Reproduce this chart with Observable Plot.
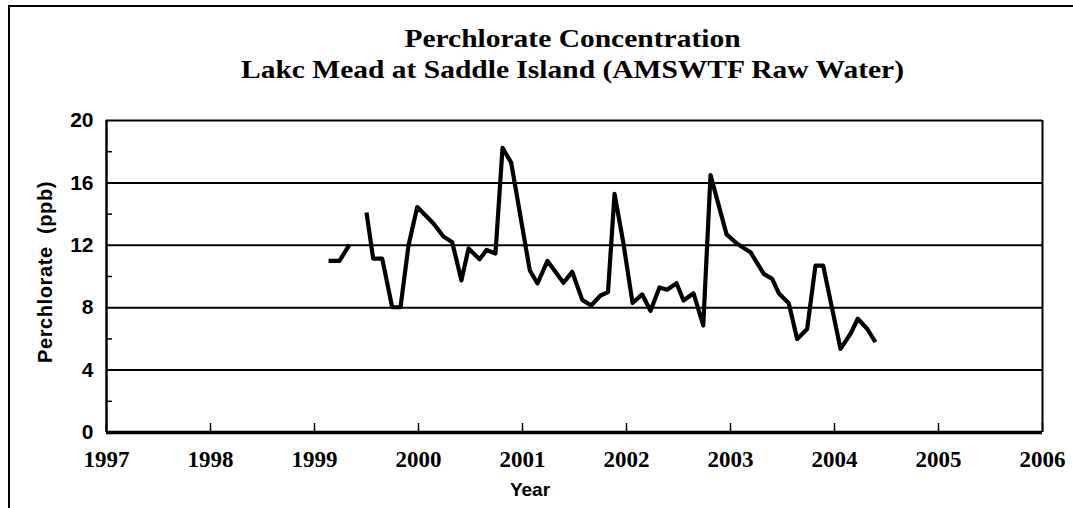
<!DOCTYPE html>
<html><head><meta charset="utf-8">
<script src="https://cdn.jsdelivr.net/npm/d3@7"></script>
<script src="https://cdn.jsdelivr.net/npm/@observablehq/plot@0.6"></script>
<style>
html,body{margin:0;padding:0;background:#fff}
body{width:1073px;height:508px;overflow:hidden;position:relative;font-family:"Liberation Sans",Arial,sans-serif}
#frame{position:absolute;left:8px;top:5px;width:1080px;height:520px;border-left:2px solid #000;border-top:2px solid #000;box-sizing:border-box}
#title{position:absolute;left:100px;top:0;width:945px;height:100px;text-align:center;font-family:"Liberation Serif","Times New Roman",serif;font-weight:bold;font-size:25px;line-height:30px;color:#000}
#title div{position:absolute;left:0;right:0;transform:scaleX(1.18)}
#title .l1{top:24px}
#title .l2{top:55px}
#chart{position:absolute;left:0;top:100px}
#ylab{position:absolute;left:45px;top:272px;transform:translate(-50%,-50%) rotate(-90deg);font-weight:bold;font-size:20px;letter-spacing:0.6px;white-space:nowrap}
#xlab{position:absolute;left:530px;top:490px;transform:translate(-50%,-50%);font-weight:bold;font-size:19px}
</style></head>
<body>
<div id="frame"></div>
<div id="title"><div class="l1">Perchlorate Concentration</div><div class="l2">Lakc Mead at Saddle Island (AMSWTF Raw Water)</div></div>
<div id="chart"></div>
<div id="ylab">Perchlorate&nbsp;&nbsp;(ppb)</div>
<div id="xlab">Year</div>
<script>
// Tick labels
const yearTicks = [1997, 1998, 1999, 2000, 2001, 2002, 2003, 2004, 2005, 2006];
const yTicks = [0, 4, 8, 12, 16, 20];
const yMinorTicks = [2, 6, 10, 14, 18];
const gridValues = [4, 8, 12, 16];

// Series 1 (early 1999 samples)
const seg1Years = [1999.135, 1999.24, 1999.337];
const seg1Values = [11.0, 11.0, 12.05];

// Series 2 (mid 1999 - mid 2004)
const seg2Years = [1999.50, 1999.564, 1999.651, 1999.747, 1999.827, 1999.904, 1999.988,
  2000.144, 2000.24, 2000.324, 2000.413, 2000.481, 2000.587, 2000.654, 2000.74, 2000.808, 2000.891,
  2001.07, 2001.144, 2001.24, 2001.394, 2001.478, 2001.574, 2001.66, 2001.75, 2001.822, 2001.885, 2001.971,
  2002.058, 2002.151, 2002.231, 2002.317, 2002.391, 2002.481, 2002.548, 2002.644, 2002.738, 2002.808, 2002.962,
  2003.064, 2003.192, 2003.32, 2003.401, 2003.464, 2003.56, 2003.641, 2003.737, 2003.817, 2003.891,
  2004.058, 2004.154, 2004.224, 2004.314, 2004.394];
const seg2Values = [14.1, 11.15, 11.15, 8.03, 8.03, 12.0, 14.45,
  13.4, 12.56, 12.2, 9.75, 11.8, 11.1, 11.7, 11.47, 18.25, 17.3,
  10.4, 9.55, 11.0, 9.6, 10.3, 8.5, 8.14, 8.78, 9.0, 15.3, 12.1,
  8.3, 8.85, 7.8, 9.3, 9.15, 9.57, 8.46, 8.93, 6.86, 16.5, 12.7,
  12.1, 11.56, 10.17, 9.85, 8.93, 8.29, 6.0, 6.64, 10.7, 10.7,
  5.36, 6.33, 7.29, 6.65, 5.79];

const data = [
  ...seg1Years.map((y, i) => ({year: y, value: seg1Values[i], seg: 1})),
  ...seg2Years.map((y, i) => ({year: y, value: seg2Values[i], seg: 2}))
];

const chart = Plot.plot({
  width: 1073,
  height: 408,
  marginLeft: 106,
  marginRight: 31,
  marginTop: 20,
  marginBottom: 76,
  style: {background: "transparent", color: "#000"},
  x: {domain: [1997, 2006], axis: null},
  y: {domain: [0, 20], axis: null},
  marks: [
    Plot.ruleY(gridValues, {stroke: "#000", strokeWidth: 2}),
    Plot.ruleY([20], {stroke: "#000", strokeWidth: 2}),
    Plot.ruleX([2006], {stroke: "#000", strokeWidth: 2}),
    Plot.ruleX([1997], {stroke: "#000", strokeWidth: 2.5}),
    Plot.axisY(yMinorTicks, {anchor: "left", tickSize: -6, strokeWidth: 1.5, tickFormat: () => "", label: null}),
    Plot.axisY(yTicks, {anchor: "left", tickSize: 0, tickPadding: 13, fontSize: 21, fontWeight: "bold", fontFamily: "Liberation Sans, Arial, sans-serif", label: null}),
    Plot.axisX(yearTicks, {anchor: "bottom", tickSize: -9, strokeWidth: 1.5, tickFormat: () => "", label: null}),
    Plot.axisX(yearTicks, {anchor: "bottom", tickSize: 0, tickPadding: 18, fontSize: 23, fontWeight: "bold", fontFamily: "Liberation Serif, Times New Roman, serif", tickFormat: d => String(d), label: null}),
    Plot.ruleY([0], {stroke: "#000", strokeWidth: 3.5}),
    Plot.line(data, {x: "year", y: "value", z: "seg", stroke: "#000", strokeWidth: 4.2, strokeLinejoin: "round", strokeLinecap: "butt"})
  ]
});
document.getElementById("chart").appendChild(chart);
</script>
</body></html>
